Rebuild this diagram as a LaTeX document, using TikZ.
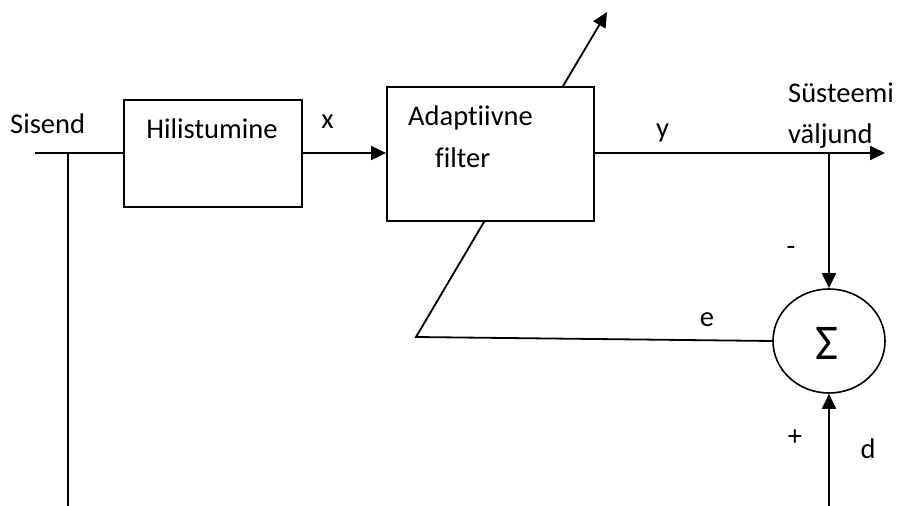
\documentclass[tikz,border=0pt]{standalone}
\usepackage{fontspec}
\setmainfont{Carlito}[Ligatures=NoCommon]
\usetikzlibrary{arrows.meta,shapes.geometric}

\tikzset{
  wire/.style={line width=1.8pt},
  sig/.style={wire, -{Triangle[length=15pt,width=14pt]}},
  blockbox/.style={draw, line width=1.8pt, rectangle, inner sep=0pt},
  sumnode/.style={draw, line width=1.6pt, ellipse, inner sep=0pt,
                  minimum width=112pt, minimum height=104pt},
  txt/.style={inner sep=0pt, font=\fontsize{28.5}{34}\selectfont},
}

\begin{document}
\begin{tikzpicture}[x=1pt, y=-1pt]
  \useasboundingbox (0,0) rectangle (898,506);

  % blocks
  \node[blockbox, minimum width=178pt, minimum height=107pt] (hil) at (213,153.5) {};
  \node[blockbox, minimum width=207pt, minimum height=134pt] (adf) at (490.5,154) {};
  \node[sumnode] (sum) at (829,341) {};

  % block texts
  \node[txt, anchor=base] (hiltxt) at (212,138) {Hilistumine};
  \node[txt, anchor=base west] (adftxt1) at (408,125) {Adaptiivne};
  \node[txt, anchor=base west] (adftxt2) at (435,167) {filter};
  \node[inner sep=0pt, font=\fontsize{50}{50}\selectfont] (sigma) at (827,343) {Σ};

  % signal labels
  \node[txt, anchor=base west] (lin) at (10,133) {Sisend};
  \node[txt, anchor=base] (lx) at (327.5,128) {x};
  \node[txt, anchor=base] (ly) at (662.5,137) {y};
  \node[txt, anchor=base west] (lout1) at (788,102) {Süsteemi};
  \node[txt, anchor=base west] (lout2) at (788,143) {väljund};
  \node[txt] (lminus) at (791,251) {-};
  \node[txt, anchor=base] (le) at (707,326) {e};
  \node[txt] (lplus) at (795,438) {+};
  \node[txt, anchor=base] (ld) at (868,458) {d};

  % junction and free-end points
  \coordinate (inl) at (35,153);
  \coordinate (br) at (68,153);
  \coordinate (bot) at (68,506);
  \coordinate (outj) at (829,153);
  \coordinate (outend) at (885,153);
  \coordinate (dsrc) at (829,506);
  \coordinate (ekink) at (416,337);
  \coordinate (adjtip) at (607,12);

  % input and delayed path
  \draw[wire] (inl) -- (hil.west |- inl);
  \draw[wire] (br) -- (bot);
  \draw[sig] (hil.east |- inl) -- (adf.west |- inl);

  % filter output
  \draw[sig] (adf.east |- outj) -- (outend);
  \draw[sig] (outj) -- (sum.north);

  % desired signal
  \draw[sig] (dsrc) -- (sum.south);

  % error feedback through the filter (adaptation arrow)
  \draw[wire] (sum.west) -- (ekink) -- (484,0 |- adf.south);
  \draw[sig] (563,0 |- adf.north) -- (adjtip);
\end{tikzpicture}
\end{document}
